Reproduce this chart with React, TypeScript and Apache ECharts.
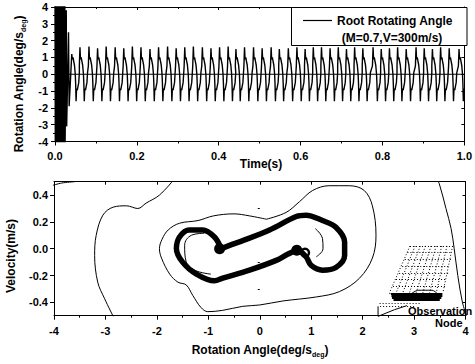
import React, { useEffect, useRef } from "react";
import * as echarts from "echarts";

const FONT = "'Liberation Sans', Arial, sans-serif";

// ---------- Top panel: time history ----------
const timeTicks = [0, 0.2, 0.4, 0.6, 0.8, 1.0];
const blockT = [0.0, 0.0008, 0.0015, 0.0023, 0.003, 0.0038, 0.0045, 0.0053, 0.006, 0.0068, 0.0075, 0.0083, 0.009, 0.0098, 0.0105, 0.0113, 0.012, 0.0128, 0.0135, 0.0143, 0.015, 0.0158, 0.0165, 0.0173, 0.018, 0.0188, 0.0195, 0.0203, 0.021, 0.0218, 0.0225, 0.0233, 0.024];
const blockV = [4.8, -4.8, 4.8, -4.8, 4.8, -4.8, 4.8, -4.8, 4.8, -4.8, 4.8, -4.8, 4.8, -4.8, 4.8, -4.8, 4.8, -4.8, 4.8, -4.8, 4.8, -4.8, 4.8, -4.8, 4.8, -4.8, 4.8, -4.8, 4.8, -4.8, 4.8, -4.8, 4.8];
const transT = [0.0245, 0.0275, 0.0285, 0.033, 0.0345];
const transV = [-4.6, 3.8, -3.1, 2.5, -1.9];
const peakTimes = [0.041, 0.061, 0.083, 0.104, 0.125, 0.147, 0.168, 0.189, 0.21, 0.232, 0.253, 0.275, 0.296, 0.317, 0.338, 0.36, 0.381, 0.402, 0.423, 0.442, 0.463, 0.485, 0.506, 0.528, 0.548, 0.57, 0.591, 0.611, 0.631, 0.651, 0.672, 0.692, 0.712, 0.732, 0.752, 0.777, 0.797, 0.817, 0.837, 0.858, 0.882, 0.902, 0.922, 0.942, 0.963, 0.987];
const peakVals = [1.2, 1.6, 1.65, 1.55, 1.65, 1.6, 1.55, 1.65, 1.6, 1.5, 1.6, 1.65, 1.55, 1.6, 1.65, 1.6, 1.55, 1.6, 1.65, 1.5, 1.6, 1.6, 1.55, 1.6, 1.5, 1.55, 1.6, 1.5, 1.6, 1.6, 1.55, 1.6, 1.5, 1.6, 1.55, 1.6, 1.5, 1.55, 1.6, 1.5, 1.6, 1.55, 1.5, 1.6, 1.55, 1.5];
const cycleOffsets = [-0.0015, 0, 0.0012, 0.003, 0.0045, 0.0065, 0.0085, 0.0095, 0.0105, 0.0117, 0.0135, 0.015, 0.017, 0.0185];
const cycleShape = [0.5, 1.6, 0.9, 1.0, 0.8, 0.55, 0.0, -0.6, -1.6, -0.85, -0.95, -0.75, -0.5, 0.1];
const zeroLine = [[0, 0], [1, 0]];

// ---------- Bottom panel: phase plot ----------
const cornerCurve = [[-4.05, 0.47], [-3.85, 0.49], [-3.6, 0.5]];
const outerLeft = [[-1.66, 0.52], [-1.95, 0.4], [-2.21, 0.34], [-2.37, 0.3], [-2.59, 0.32], [-2.85, 0.31], [-3.05, 0.25], [-3.18, 0.1], [-3.21, -0.05], [-3.15, -0.25], [-3.02, -0.37], [-2.83, -0.52]];
const middleLoop = [[0.13, 0.22], [-0.2, 0.245], [-0.5, 0.26], [-0.9, 0.245], [-1.2, 0.21], [-1.56, 0.19], [-1.78, 0.14], [-1.9, 0.07], [-1.95, 0.0], [-1.91, -0.07], [-1.75, -0.19], [-1.59, -0.25], [-1.43, -0.27], [-1.3, -0.35], [-1.14, -0.44], [-1.01, -0.47], [-0.72, -0.46], [-0.33, -0.43], [0.0, -0.42], [0.45, -0.39], [1.1, -0.36], [1.55, -0.32], [1.94, -0.22], [2.19, -0.07], [2.26, 0.1], [2.19, 0.32], [2.03, 0.435], [1.74, 0.47], [1.35, 0.47], [1.03, 0.435], [0.77, 0.35], [0.51, 0.27], [0.13, 0.22]];
const outerRight = [[3.44, 0.52], [3.49, 0.485], [3.62, 0.3], [3.72, 0.15], [3.78, 0.0], [3.85, -0.2], [3.94, -0.4], [4.02, -0.5]];
const trajectory = [[-0.75, 0.0], [-0.55, 0.03], [-0.33, 0.06], [0.19, 0.14], [0.71, 0.24], [0.9, 0.25], [1.22, 0.21], [1.48, 0.16], [1.65, 0.05], [1.65, -0.05], [1.48, -0.14], [1.22, -0.16], [1.0, -0.125], [0.9, -0.06], [0.74, -0.013], [0.55, -0.04], [0.32, -0.087], [-0.2, -0.16], [-0.72, -0.22], [-0.88, -0.24], [-1.23, -0.19], [-1.5, -0.1], [-1.62, 0.0], [-1.56, 0.087], [-1.37, 0.14], [-1.11, 0.14], [-0.88, 0.087], [-0.75, 0.0]];
const innerLeft = [[-1.08, 0.115], [-1.33, 0.1], [-1.46, 0.025], [-1.43, -0.1], [-1.27, -0.16], [-0.95, -0.19]];
const innerRight = [[1.08, 0.15], [1.22, 0.075], [1.23, 0.0], [1.1, -0.06]];
const blobs = [[-0.78, 0.0], [0.72, -0.012]];
const rings = [[0.88, -0.03]];
const meshRowY = [0.02, -0.03, -0.08, -0.13, -0.18, -0.23, -0.28, -0.33];
const meshRowX1 = [2.92, 2.87, 2.82, 2.77, 2.71, 2.65, 2.59, 2.52];
const meshRowX2 = [3.75, 3.74, 3.72, 3.7, 3.67, 3.64, 3.6, 3.56];
const meshColTop = [2.92, 3.02, 3.12, 3.22, 3.33, 3.43, 3.54, 3.64, 3.75];
const meshColBot = [2.52, 2.65, 2.78, 2.91, 3.04, 3.17, 3.3, 3.43, 3.56];
const bandY = [-0.338, -0.352, -0.366, -0.38];
const bandX1 = [2.55, 2.56, 2.57, 2.6];
const bandX2 = [3.55, 3.55, 3.53, 3.5];
const lowerRowY = [-0.405, -0.43];
const lowerRowX1 = [2.33, 2.34];
const lowerRowX2 = [3.12, 3.0];
const humpCurve = [[2.95, -0.335], [3.08, -0.31], [3.35, -0.31], [3.45, -0.335]];
const nodeMark = [[2.3, -0.43], [2.3, -0.505], [2.62, -0.455], [2.86, -0.425]];

const axisFont = { fontFamily: FONT, fontSize: 11, fontWeight: "bold" as const, color: "#000" };
const black = "#000";

function buildSignal(): number[][] {
  const sig: number[][] = [];
  blockT.forEach((t, i) => sig.push([t, blockV[i]]));
  transT.forEach((t, i) => sig.push([t, transV[i]]));
  peakTimes.forEach((p, i) => {
    cycleOffsets.forEach((o, j) => {
      const t = p + o;
      if (t > 1.0) return;
      const v = j === 1 ? (peakVals[i] ?? cycleShape[1]) : cycleShape[j];
      sig.push([t, v]);
    });
  });
  return sig;
}

function subTitle(text: string) {
  return {
    text: `{a|${text}}{b|deg}{a|)}`,
    rich: {
      a: { fontFamily: FONT, fontSize: 12, fontWeight: "bold", lineHeight: 16, fill: black },
      b: { fontFamily: FONT, fontSize: 7, fontWeight: "bold", lineHeight: 6, verticalAlign: "bottom", fill: black },
    },
    align: "center",
    verticalAlign: "middle",
  };
}

export default function App() {
  const ref = useRef<HTMLDivElement>(null);
  useEffect(() => {
    if (!ref.current) return;
    const chart = echarts.init(ref.current, null, { renderer: "svg" });
    const sig = buildSignal();

    const meshSegs: any[] = [];
    meshRowY.forEach((y, i) => meshSegs.push({ coords: [[meshRowX1[i], y], [meshRowX2[i], y]] }));
    meshColTop.forEach((x, i) => meshSegs.push({ coords: [[x, meshRowY[0]], [meshColBot[i], meshRowY[meshRowY.length - 1]]] }));
    lowerRowY.forEach((y, i) => meshSegs.push({ coords: [[lowerRowX1[i], y], [lowerRowX2[i], y]] }));
    const bandSegs = bandY.map((y, i) => ({ coords: [[bandX1[i], y], [bandX2[i], y]] }));

    const frameAxis = (pos: string, gridIndex: number, extra: any) => ({
      gridIndex,
      position: pos,
      type: "value",
      axisLine: { show: true, onZero: false, lineStyle: { color: black, width: 1 } },
      axisTick: { show: true, inside: true, length: 3, lineStyle: { color: black } },
      axisLabel: { show: false },
      splitLine: { show: false },
      ...extra,
    });

    chart.setOption({
      animation: false,
      backgroundColor: "#fff",
      grid: [
        { left: 55, top: 7, width: 412, height: 134.5 },
        { left: 54, top: 181.7, width: 411.5, height: 134 },
      ],
      xAxis: [
        {
          gridIndex: 0, type: "value", min: 0, max: 1, interval: 0.2, position: "bottom",
          axisLine: { onZero: false, lineStyle: { color: black, width: 1 } },
          axisTick: { inside: false, length: 4, lineStyle: { color: black } },
          minorTick: { show: true, splitNumber: 2, length: 2, lineStyle: { color: black } },
          axisLabel: { ...axisFont, margin: 9, formatter: (v: number) => v.toFixed(1), customValues: timeTicks },
          splitLine: { show: false },
        },
        frameAxis("top", 0, { min: 0, max: 1, interval: 0.2, minorTick: { show: true, splitNumber: 2, length: 2, lineStyle: { color: black } } }),
        {
          gridIndex: 1, type: "value", min: -4, max: 4, interval: 1, position: "bottom",
          axisLine: { onZero: false, lineStyle: { color: black, width: 1 } },
          axisTick: { inside: false, length: 4, lineStyle: { color: black } },
          minorTick: { show: true, splitNumber: 2, length: 2, lineStyle: { color: black } },
          axisLabel: { ...axisFont, margin: 10 },
          splitLine: { show: false },
        },
        frameAxis("top", 1, { min: -4, max: 4, interval: 1 }),
      ],
      yAxis: [
        {
          gridIndex: 0, type: "value", min: -4, max: 4, interval: 1, position: "left",
          axisLine: { onZero: false, lineStyle: { color: black, width: 1 } },
          axisTick: { inside: false, length: 4, lineStyle: { color: black } },
          minorTick: { show: true, splitNumber: 2, length: 2, lineStyle: { color: black } },
          axisLabel: { ...axisFont, margin: 7 },
          splitLine: { show: false },
        },
        frameAxis("right", 0, { min: -4, max: 4, interval: 1 }),
        {
          gridIndex: 1, type: "value", min: -0.5, max: 0.5, position: "left",
          axisLine: { onZero: false, lineStyle: { color: black, width: 1 } },
          axisTick: { inside: false, length: 4, lineStyle: { color: black }, customValues: [-0.4, -0.2, 0, 0.2, 0.4] },
          axisLabel: { ...axisFont, margin: 6, customValues: [-0.4, -0.2, 0, 0.2, 0.4], formatter: (v: number) => v.toFixed(1) },
          splitLine: { show: false },
        },
        frameAxis("right", 1, { min: -0.5, max: 0.5, axisTick: { show: true, inside: true, length: 3, lineStyle: { color: black }, customValues: [-0.4, -0.2, 0, 0.2, 0.4] } }),
        {
          gridIndex: 1, type: "value", min: -0.5, max: 0.5, position: "left", offset: 0,
          axisLine: { show: false },
          axisTick: { show: true, inside: false, length: 2, lineStyle: { color: black }, customValues: [-0.5, -0.3, -0.1, 0.1, 0.3, 0.5] },
          axisLabel: { show: false },
          splitLine: { show: false },
        },
      ],
      series: [
        { type: "line", xAxisIndex: 0, yAxisIndex: 0, data: zeroLine, symbol: "none", lineStyle: { color: black, width: 1 }, z: 2 },
        { type: "line", xAxisIndex: 0, yAxisIndex: 0, data: sig, symbol: "none", clip: true, lineStyle: { color: black, width: 1.4 }, z: 3 },

        { type: "line", xAxisIndex: 2, yAxisIndex: 2, data: cornerCurve, symbol: "none", smooth: 0.3, clip: true, lineStyle: { color: black, width: 1 } },
        { type: "line", xAxisIndex: 2, yAxisIndex: 2, data: outerLeft, symbol: "none", smooth: 0.35, clip: true, lineStyle: { color: black, width: 1 } },
        { type: "line", xAxisIndex: 2, yAxisIndex: 2, data: middleLoop, symbol: "none", smooth: 0.35, clip: true, lineStyle: { color: black, width: 1 } },
        { type: "line", xAxisIndex: 2, yAxisIndex: 2, data: outerRight, symbol: "none", smooth: 0.35, clip: true, lineStyle: { color: black, width: 1 } },
        { type: "line", xAxisIndex: 2, yAxisIndex: 2, data: trajectory, symbol: "none", smooth: 0.35, clip: true, lineStyle: { color: black, width: 5.5 } },
        { type: "line", xAxisIndex: 2, yAxisIndex: 2, data: innerLeft, symbol: "none", smooth: 0.4, clip: true, lineStyle: { color: black, width: 1 } },
        { type: "line", xAxisIndex: 2, yAxisIndex: 2, data: innerRight, symbol: "none", smooth: 0.4, clip: true, lineStyle: { color: black, width: 1 } },
        { type: "scatter", xAxisIndex: 2, yAxisIndex: 2, data: blobs, symbol: "circle", symbolSize: 11, itemStyle: { color: black, opacity: 1 } },
        { type: "scatter", xAxisIndex: 2, yAxisIndex: 2, data: rings, symbol: "circle", symbolSize: 8, itemStyle: { color: "#fff", borderColor: black, borderWidth: 2.5, opacity: 1 } },
        { type: "lines", coordinateSystem: "cartesian2d", xAxisIndex: 2, yAxisIndex: 2, data: meshSegs, lineStyle: { color: black, width: 1, type: [1, 2], opacity: 1 } },
        { type: "lines", coordinateSystem: "cartesian2d", xAxisIndex: 2, yAxisIndex: 2, data: bandSegs, lineStyle: { color: black, width: 2.2, opacity: 1 } },
        { type: "line", xAxisIndex: 2, yAxisIndex: 2, data: humpCurve, symbol: "none", smooth: 0.3, lineStyle: { color: black, width: 1 } },
        { type: "line", xAxisIndex: 2, yAxisIndex: 2, data: nodeMark, symbol: "none", clip: false, lineStyle: { color: black, width: 1 } },
      ],
      graphic: [
        { type: "rect", z: 100, shape: { x: 291.5, y: 7.5, width: 175.5, height: 38 }, style: { fill: "#fff", stroke: black, lineWidth: 1 } },
        { type: "line", z: 101, shape: { x1: 303, y1: 20.5, x2: 332, y2: 20.5 }, style: { stroke: black, lineWidth: 1.2 } },
        { type: "text", z: 101, x: 337, y: 20.5, style: { text: "Root Rotating Angle", fontFamily: FONT, fontSize: 12, fontWeight: "bold", fill: black, align: "left", verticalAlign: "middle" } },
        { type: "text", z: 101, x: 392, y: 37.5, style: { text: "(M=0.7,V=300m/s)", fontFamily: FONT, fontSize: 12, fontWeight: "bold", fill: black, align: "center", verticalAlign: "middle" } },
        { type: "text", z: 101, x: 261, y: 164, style: { text: "Time(s)", fontFamily: FONT, fontSize: 12, fontWeight: "bold", fill: black, align: "center", verticalAlign: "middle" } },
        { type: "text", z: 101, x: 19, y: 84, rotation: Math.PI / 2, style: subTitle("Rotation Angle(deg/s") },
        { type: "text", z: 101, x: 260, y: 350, style: subTitle("Rotation Angle(deg/s") },
        { type: "text", z: 101, x: 11, y: 256, rotation: Math.PI / 2, style: { text: "Velocity(m/s)", fontFamily: FONT, fontSize: 12, fontWeight: "bold", fill: black, align: "center", verticalAlign: "middle" } },
        { type: "text", z: 101, x: 408, y: 311, style: { text: "Observation", fontFamily: FONT, fontSize: 11, fontWeight: "bold", fill: black, align: "left", verticalAlign: "middle" } },
        { type: "text", z: 101, x: 435, y: 323, style: { text: "Node", fontFamily: FONT, fontSize: 11, fontWeight: "bold", fill: black, align: "left", verticalAlign: "middle" } },
      ],
    });
    return () => chart.dispose();
  }, []);
  return <div ref={ref} style={{ position: "absolute", left: 0, top: 0, width: 475, height: 364 }} />;
}
